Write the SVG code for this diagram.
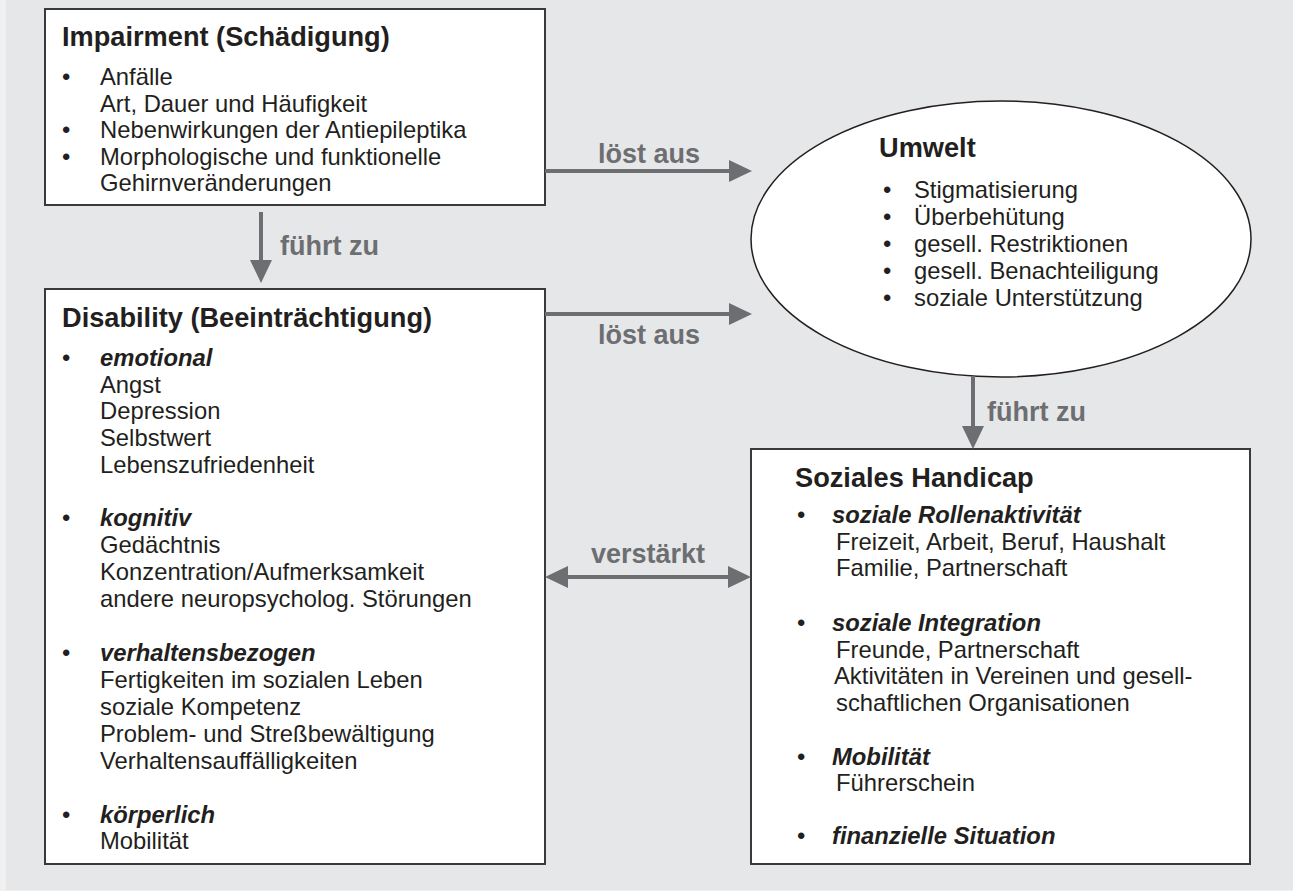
<svg xmlns="http://www.w3.org/2000/svg" width="1293" height="891" viewBox="0 0 1293 891">
<defs>
<style>
text{font-family:"Liberation Sans",Arial,sans-serif;fill:#231f20}
.h{font-size:27.2px;font-weight:bold}
.b{font-size:23.8px}
.bi{font-size:23.8px;font-weight:bold;font-style:italic}
.lbl{font-size:27px;font-weight:bold;fill:#6d6e71}
.box{fill:#fff;stroke:#3a3a3a;stroke-width:2}
.con{stroke:#6d6e71;stroke-width:4;fill:none}
</style>
<marker id="ah" markerUnits="userSpaceOnUse" markerWidth="24" markerHeight="24" refX="1" refY="11" orient="auto-start-reverse">
<path d="M0,0 L23,11 L0,22 Z" fill="#6d6e71"/>
</marker>
</defs>
<rect x="0" y="0" width="1293" height="891" fill="#f1f1f2"/>
<rect x="6" y="0" width="1287" height="890" fill="#e6e7e8"/>

<g id="impairment">
<rect class="box" x="45" y="9" width="500" height="196"/>
<text class="h" x="62" y="46">Impairment (Schädigung)</text>
<text class="b" x="62" y="85">•</text>
<text class="b" x="100" y="85">Anfälle</text>
<text class="b" x="100" y="111.5">Art, Dauer und Häufigkeit</text>
<text class="b" x="62" y="138">•</text>
<text class="b" x="100" y="138">Nebenwirkungen der Antiepileptika</text>
<text class="b" x="62" y="164.5">•</text>
<text class="b" x="100" y="164.5">Morphologische und funktionelle</text>
<text class="b" x="100" y="191">Gehirnveränderungen</text>
</g>

<g id="disability">
<rect class="box" x="45" y="289" width="500" height="575"/>
<text class="h" x="62" y="327">Disability (Beeinträchtigung)</text>
<text class="b" x="62" y="366">•</text>
<text class="bi" x="100" y="366">emotional</text>
<text class="b" x="100" y="392.5">Angst</text>
<text class="b" x="100" y="419">Depression</text>
<text class="b" x="100" y="446">Selbstwert</text>
<text class="b" x="100" y="473">Lebenszufriedenheit</text>
<text class="b" x="62" y="526">•</text>
<text class="bi" x="100" y="526">kognitiv</text>
<text class="b" x="100" y="553">Gedächtnis</text>
<text class="b" x="100" y="580">Konzentration/Aufmerksamkeit</text>
<text class="b" x="100" y="607">andere neuropsycholog. Störungen</text>
<text class="b" x="62" y="661">•</text>
<text class="bi" x="100" y="661">verhaltensbezogen</text>
<text class="b" x="100" y="688">Fertigkeiten im sozialen Leben</text>
<text class="b" x="100" y="715">soziale Kompetenz</text>
<text class="b" x="100" y="742">Problem- und Streßbewältigung</text>
<text class="b" x="100" y="768.5">Verhaltensauffälligkeiten</text>
<text class="b" x="62" y="823">•</text>
<text class="bi" x="100" y="823">körperlich</text>
<text class="b" x="100" y="849">Mobilität</text>
</g>

<g id="umwelt">
<ellipse cx="1001" cy="239" rx="250" ry="138" fill="#fff" stroke="#231f20" stroke-width="1.5"/>
<text class="h" x="879" y="157">Umwelt</text>
<text class="b" x="883" y="198">•</text>
<text class="b" x="914" y="198">Stigmatisierung</text>
<text class="b" x="883" y="225">•</text>
<text class="b" x="914" y="225">Überbehütung</text>
<text class="b" x="883" y="252">•</text>
<text class="b" x="914" y="252">gesell. Restriktionen</text>
<text class="b" x="883" y="279">•</text>
<text class="b" x="914" y="279">gesell. Benachteiligung</text>
<text class="b" x="883" y="306">•</text>
<text class="b" x="914" y="306">soziale Unterstützung</text>
</g>

<g id="handicap">
<rect class="box" x="751" y="449" width="499" height="415"/>
<text class="h" x="795" y="487">Soziales Handicap</text>
<text class="b" x="797" y="523">•</text>
<text class="bi" x="832" y="523">soziale Rollenaktivität</text>
<text class="b" x="836" y="549.5">Freizeit, Arbeit, Beruf, Haushalt</text>
<text class="b" x="836" y="576">Familie, Partnerschaft</text>
<text class="b" x="797" y="631">•</text>
<text class="bi" x="832" y="631">soziale Integration</text>
<text class="b" x="836" y="657.5">Freunde, Partnerschaft</text>
<text class="b" x="834" y="684">Aktivitäten in Vereinen und gesell-</text>
<text class="b" x="836" y="710.5">schaftlichen Organisationen</text>
<text class="b" x="797" y="765">•</text>
<text class="bi" x="832" y="765">Mobilität</text>
<text class="b" x="836" y="791">Führerschein</text>
<text class="b" x="797" y="844">•</text>
<text class="bi" x="832" y="844">finanzielle Situation</text>
</g>

<g id="connectors">
<path class="con" d="M545,171 H730" marker-end="url(#ah)"/>
<text class="lbl" x="649" y="163" text-anchor="middle">löst aus</text>
<path class="con" d="M545,314 H730" marker-end="url(#ah)"/>
<text class="lbl" x="649" y="344" text-anchor="middle">löst aus</text>
<path class="con" d="M261,212 V261" marker-end="url(#ah)"/>
<text class="lbl" x="280" y="255">führt zu</text>
<path class="con" d="M973,376 V427" marker-end="url(#ah)"/>
<text class="lbl" x="987" y="421">führt zu</text>
<path class="con" d="M567,577 H729" marker-start="url(#ah)" marker-end="url(#ah)"/>
<text class="lbl" x="648" y="563" text-anchor="middle">verstärkt</text>
</g>
</svg>
